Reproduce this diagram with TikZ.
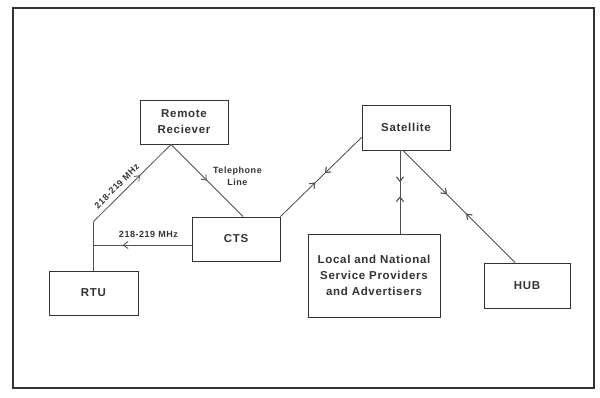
\documentclass[tikz,border=0pt]{standalone}
\usepackage{fontspec}
\setmainfont{Liberation Sans}
\newfontfamily\plotfont[LetterSpace=6]{Liberation Sans}
\usetikzlibrary{arrows.meta,decorations.markings,calc}
\definecolor{ink}{HTML}{333333}
\definecolor{wire}{HTML}{505050}
\begin{document}
\begin{tikzpicture}[x=1pt,y=-1pt,
  unit/.style={draw=ink,line width=0.85pt,minimum width=#1,inner sep=2pt,
    font=\plotfont\bfseries\fontsize{11.5}{16}\selectfont,text=ink,align=center},
  unit/.default=88pt,
  link/.style={draw=wire,line width=0.85pt},
  fwd/.style={postaction={decorate},decoration={markings,
    mark=at position #1 with {\arrow[wire,line width=0.8pt]{Straight Barb[length=4.5pt,width=7pt]}}}},
  bwd/.style={postaction={decorate},decoration={markings,
    mark=at position #1 with {\arrow[wire,line width=0.8pt]{Straight Barb[reversed,length=4.5pt,width=7pt]}}}},
  tag/.style={font=\plotfont\bfseries\fontsize{9}{12}\selectfont,text=ink,align=center,inner sep=1pt}]
\useasboundingbox (0,0) rectangle (600,397);
% outer frame
\draw[ink,line width=1.2pt] (13,8) rectangle (594,388);

% units
\node[unit,minimum height=44pt] (rem) at (184,122) {Remote\\Reciever};
\node[unit=89pt,minimum height=44pt] (rtu) at (93.5,293) {RTU};
\node[unit,minimum height=44pt] (cts) at (236,239) {CTS};
\node[unit,minimum height=45pt] (sat) at (406,127.5) {Satellite};
\node[unit=132pt,minimum height=83pt] (loc) at (374,275.5) {Local and National\\Service Providers\\and Advertisers};
\node[unit=86pt,minimum height=45pt] (hub) at (527,285.5) {HUB};

% junction points
\coordinate (apex) at ($(rem.south)+(-13,0)$);
\coordinate (bend) at ($(rtu.north)+(0,-49)$);
\coordinate (ctsin) at ($(cts.north)+(7,0)$);
\coordinate (ctsout) at ($(cts.west)+(0,6)$);
\coordinate (satl) at ($(sat.south west)+(0,-13)$);
\coordinate (satd) at ($(sat.south)+(-6,0)$);
\coordinate (sath) at ($(sat.south)+(-3,0)$);
\coordinate (hubin) at ($(hub.north)+(-12,0)$);

% RTU uplink to the remote receiver
\draw[link] (rtu.north) -- (bend);
\draw[link,fwd=0.6] (bend) -- node[tag,sloped,above=4pt,pos=0.38] {218-219 MHz} (apex);
% telephone line to CTS
\draw[link,fwd=0.5] (apex) -- node[tag,right=9pt,pos=0.44] {Telephone\\Line} (ctsin);
% CTS downlink to RTU
\draw[link,fwd=0.7] (ctsout) -- node[tag,above=6pt,pos=0.44] {218-219 MHz} (ctsout -| rtu.north);
% satellite links
\draw[link,fwd=0.45,bwd=0.62] (satl) -- (cts.north east);
\draw[link,fwd=0.38,bwd=0.62] (satd) -- (satd |- loc.north);
\draw[link,fwd=0.39,bwd=0.6] (sath) -- (hubin);
\end{tikzpicture}
\end{document}
